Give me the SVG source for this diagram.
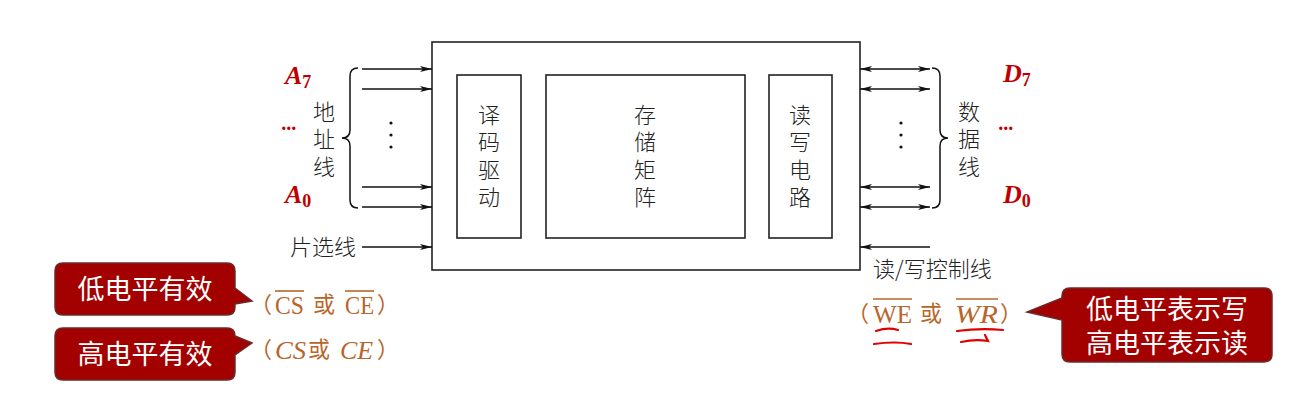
<svg xmlns="http://www.w3.org/2000/svg" width="1313" height="409" viewBox="0 0 1313 409">
<style>
.box{fill:none;stroke:#222;stroke-width:1.6}
.ln{stroke:#111;stroke-width:1.5;fill:none}
.cn{font-family:"Noto Sans CJK SC",sans-serif;font-size:22px;fill:#222;font-weight:300}
.red{font-family:"Liberation Serif",serif;font-weight:bold;font-style:italic;fill:#C00000}
.sub{font-style:normal;font-size:18px}
.br{font-family:"Liberation Serif",serif;font-size:26px;fill:#B8652A}
.brc{font-family:"Noto Sans CJK SC",sans-serif;font-size:22px;fill:#B8652A}
.bub{fill:#A30000;stroke:#6b2a2a;stroke-width:1.5}
.bt{font-family:"Noto Sans CJK SC",sans-serif;font-size:27px;fill:#fff}
.ov{stroke:#B8652A;stroke-width:1.6}
.scr{stroke:#E00000;stroke-width:2.2;fill:none;stroke-linecap:round}
</style>
<defs>
<marker id="ah" viewBox="0 0 12 6" refX="12" refY="3" markerWidth="12" markerHeight="6" markerUnits="userSpaceOnUse" orient="auto-start-reverse">
<path d="M0,0 L12,3 L0,6 L3,3 Z" fill="#111"/>
</marker>
</defs>

<g id="chip">
<rect class="box" x="432" y="42" width="428" height="228"/>
</g>
<g id="decoder">
<rect class="box" x="457" y="75" width="64" height="163"/>
<text class="cn" text-anchor="middle"><tspan x="489" y="123">译</tspan><tspan x="489" y="150">码</tspan><tspan x="489" y="178">驱</tspan><tspan x="489" y="205">动</tspan></text>
</g>
<g id="matrix">
<rect class="box" x="546" y="75" width="199" height="163"/>
<text class="cn" text-anchor="middle"><tspan x="645" y="123">存</tspan><tspan x="645" y="150">储</tspan><tspan x="645" y="178">矩</tspan><tspan x="645" y="205">阵</tspan></text>
</g>
<g id="rw">
<rect class="box" x="769" y="75" width="63" height="163"/>
<text class="cn" text-anchor="middle"><tspan x="800" y="123">读</tspan><tspan x="800" y="150">写</tspan><tspan x="800" y="178">电</tspan><tspan x="800" y="205">路</tspan></text>
</g>

<g id="connectors">
<line class="ln" x1="362" y1="69" x2="432" y2="69" marker-end="url(#ah)"/>
<line class="ln" x1="362" y1="89" x2="432" y2="89" marker-end="url(#ah)"/>
<line class="ln" x1="362" y1="187" x2="432" y2="187" marker-end="url(#ah)"/>
<line class="ln" x1="362" y1="207" x2="432" y2="207" marker-end="url(#ah)"/>
<line class="ln" x1="362" y1="247" x2="432" y2="247" marker-end="url(#ah)"/>
<line class="ln" x1="860" y1="69" x2="930" y2="69" marker-start="url(#ah)" marker-end="url(#ah)"/>
<line class="ln" x1="860" y1="89" x2="930" y2="89" marker-start="url(#ah)" marker-end="url(#ah)"/>
<line class="ln" x1="860" y1="187" x2="930" y2="187" marker-start="url(#ah)" marker-end="url(#ah)"/>
<line class="ln" x1="860" y1="207" x2="930" y2="207" marker-start="url(#ah)" marker-end="url(#ah)"/>
<line class="ln" x1="930" y1="247" x2="860" y2="247" marker-end="url(#ah)"/>
</g>

<g id="addr">
<path class="ln" d="M358,68 Q350,68 350,76 V130 Q350,138 342,138 Q350,138 350,146 V200 Q350,208 358,208"/>
<circle cx="391" cy="123" r="1.6" fill="#111"/><circle cx="391" cy="135" r="1.6" fill="#111"/><circle cx="391" cy="147" r="1.6" fill="#111"/>
<text class="cn" text-anchor="middle"><tspan x="324" y="120">地</tspan><tspan x="324" y="147">址</tspan><tspan x="324" y="175">线</tspan></text>
<text class="red" x="285" y="84" font-size="26">A<tspan class="sub" dy="4">7</tspan></text>
<text class="red" x="282" y="130" font-size="20">...</text>
<text class="red" x="285" y="203" font-size="26">A<tspan class="sub" dy="4">0</tspan></text>
<text class="cn" x="356" y="255" text-anchor="end" font-size="21">片选线</text>
</g>

<g id="data">
<path class="ln" d="M932,68 Q940,68 940,76 V130 Q940,138 948,138 Q940,138 940,146 V200 Q940,208 932,208"/>
<circle cx="901" cy="123" r="1.6" fill="#111"/><circle cx="901" cy="135" r="1.6" fill="#111"/><circle cx="901" cy="147" r="1.6" fill="#111"/>
<text class="cn" text-anchor="middle"><tspan x="969" y="120">数</tspan><tspan x="969" y="147">据</tspan><tspan x="969" y="175">线</tspan></text>
<text class="red" x="1003" y="82" font-size="26">D<tspan class="sub" dy="4">7</tspan></text>
<text class="red" x="999" y="130" font-size="20">...</text>
<text class="red" x="1003" y="203" font-size="26">D<tspan class="sub" dy="4">0</tspan></text>
<text class="cn" x="873" y="277" font-size="21">读/写控制线</text>
</g>

<g id="cs-low">
<path class="bub" d="M63,263 H227 Q235,263 235,271 V288 L252,301 L235,304 V307 Q235,315 227,315 H63 Q55,315 55,307 V271 Q55,263 63,263 Z"/>
<text class="bt" x="145" y="299" text-anchor="middle">低电平有效</text>
<text class="brc" x="250" y="312">（</text>
<text class="br" x="275" y="314" textLength="29" lengthAdjust="spacingAndGlyphs">CS</text>
<line class="ov" x1="275" y1="291" x2="304" y2="291"/>
<text class="brc" x="313" y="312">或</text>
<text class="br" x="345" y="314" textLength="29" lengthAdjust="spacingAndGlyphs">CE</text>
<line class="ov" x1="345" y1="291" x2="374" y2="291"/>
<text class="brc" x="377" y="312">）</text>
</g>

<g id="cs-high">
<path class="bub" d="M63,328 H227 Q235,328 235,336 L252,343 L235,355 V372 Q235,380 227,380 H63 Q55,380 55,372 V336 Q55,328 63,328 Z"/>
<text class="bt" x="145" y="364" text-anchor="middle">高电平有效</text>
<text class="brc" x="250" y="357">（</text>
<text class="br" x="275" y="359" font-style="italic" textLength="31" lengthAdjust="spacingAndGlyphs">CS</text>
<text class="brc" x="308" y="357">或</text>
<text class="br" x="340" y="359" font-style="italic" textLength="33" lengthAdjust="spacingAndGlyphs">CE</text>
<text class="brc" x="377" y="357">）</text>
</g>

<g id="we">
<path class="bub" d="M1070,288 H1264 Q1272,288 1272,296 V354 Q1272,362 1264,362 H1070 Q1062,362 1062,354 V320 L1027,312 L1062,298 V296 Q1062,288 1070,288 Z"/>
<text class="bt" x="1167" y="319" text-anchor="middle">低电平表示写</text>
<text class="bt" x="1167" y="353" text-anchor="middle">高电平表示读</text>
<text class="brc" x="847" y="321">（</text>
<text class="br" x="873" y="323" textLength="39" lengthAdjust="spacingAndGlyphs">WE</text>
<line class="ov" x1="873" y1="299" x2="912" y2="299"/>
<text class="brc" x="920" y="321">或</text>
<text class="br" x="955" y="323" font-style="italic" textLength="43" lengthAdjust="spacingAndGlyphs">WR</text>
<line class="ov" x1="956" y1="299" x2="998" y2="299"/>
<text class="brc" x="1000" y="321">）</text>
<path class="scr" d="M876,331 Q888,327 898,330"/>
<path class="scr" d="M874,344 Q895,341 911,344"/>
<path class="scr" d="M957,331 Q980,328 1003,330"/>
<path class="scr" d="M961,342 Q975,339 988,341 L985,335"/>
</g>
</svg>
